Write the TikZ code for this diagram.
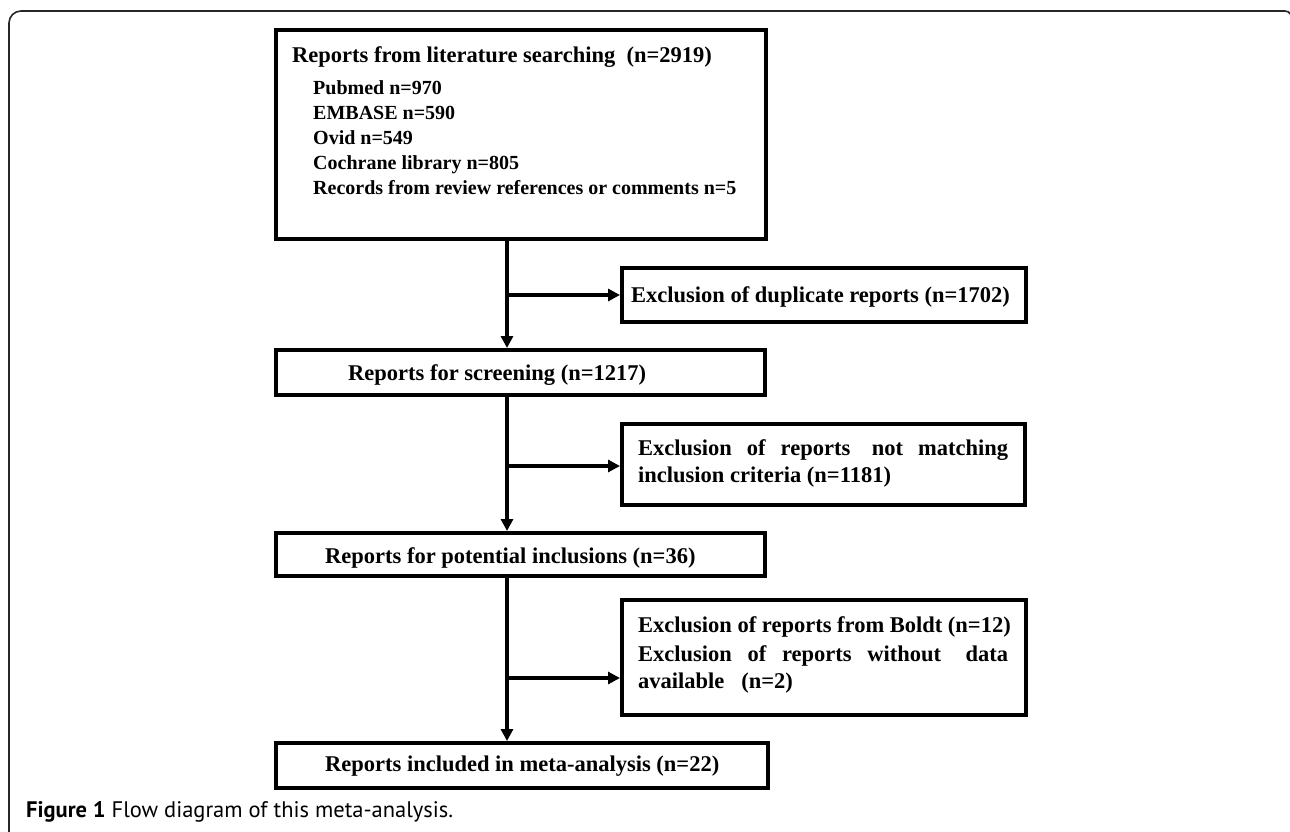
\documentclass[tikz,border=0pt]{standalone}
\usepackage{fontspec}
\setmainfont{Liberation Serif}
\newfontfamily\capfont{PT Sans}
\usetikzlibrary{arrows.meta}
\tikzset{
  box/.style={draw, line width=4pt, inner sep=0pt, minimum width=#1},
  txt/.style={inner sep=0pt, anchor=base west, font=\fontsize{22.5}{27}\selectfont\bfseries},
  subtxt/.style={txt, font=\fontsize{20}{24}\selectfont\bfseries},
  arr/.style={line width=4pt, -{Triangle[length=12pt,width=12pt]}},
  frame/.style={line width=1.6pt, draw=black!85}
}
\begin{document}
\begin{tikzpicture}[x=1pt,y=-1pt]
\useasboundingbox (0,0) rectangle (1290,832);
% frame
\draw[frame, rounded corners=12pt] (9,834) -- (9,11) -- (1285,11);
\draw[frame] (1285,11) .. controls (1288,11) and (1289.5,12.5) .. (1290,14);
% boxes
\node[box=490pt, minimum height=209pt] (b1) at (521,134.5) {};
\node[box=404pt, minimum height=54pt] (b2) at (824,295) {};
\node[box=489pt, minimum height=45pt] (b3) at (520.5,372.5) {};
\node[box=403pt, minimum height=81pt] (b4) at (823.5,464.5) {};
\node[box=489pt, minimum height=43pt] (b5) at (520.5,554.5) {};
\node[box=404pt, minimum height=115pt] (b6) at (824,657.5) {};
\node[box=492pt, minimum height=45pt] (b7) at (522,765.5) {};
% texts
\node[txt] (t1a) at (292,63) {Reports from literature searching\hspace{0.25em} (n=2919)};
\node[subtxt] (t1b) at (313,95) {Pubmed n=970};
\node[subtxt] (t1c) at (313,120) {EMBASE n=590};
\node[subtxt] (t1d) at (313,144) {Ovid n=549};
\node[subtxt] (t1e) at (313,169) {Cochrane library n=805};
\node[subtxt] (t1f) at (313,194) {Records from review references or comments n=5};
\node[txt] (t2) at (631,302) {Exclusion of duplicate reports (n=1702)};
\node[txt] (t3) at (348,380) {Reports for screening (n=1217)};
\node[txt] (t4a) at (638,455) {\makebox[370pt][s]{Exclusion of reports\hspace{0.3em} not matching}};
\node[txt] (t4b) at (638,482) {inclusion criteria (n=1181)};
\node[txt] (t5) at (325,563) {Reports for potential inclusions (n=36)};
\node[txt] (t6a) at (638,632) {Exclusion of reports from Boldt (n=12)};
\node[txt] (t6b) at (638,661) {\makebox[370pt][s]{Exclusion of reports without\hspace{0.4em} data}};
\node[txt] (t6c) at (638,688) {available\hspace{0.5em} (n=2)};
\node[txt] (t7) at (325,771) {Reports included in meta-analysis (n=22)};
% caption
\node[inner sep=0pt, anchor=base west, font=\capfont\fontsize{22.5}{26}\selectfont] (cap) at (26,817) {\textbf{Figure 1} Flow diagram of this meta-analysis.};
% connectors
\coordinate (j1) at (507,295);
\coordinate (j2) at (507,466);
\coordinate (j3) at (507,678);
\draw[arr] (b1.south -| j1) -- (b3.north -| j1);
\draw[arr] (j1) -- (b2.west |- j1);
\draw[arr] (b3.south -| j2) -- (b5.north -| j2);
\draw[arr] (j2) -- (b4.west |- j2);
\draw[arr] (b5.south -| j3) -- (b7.north -| j3);
\draw[arr] (j3) -- (b6.west |- j3);
\end{tikzpicture}
\end{document}
